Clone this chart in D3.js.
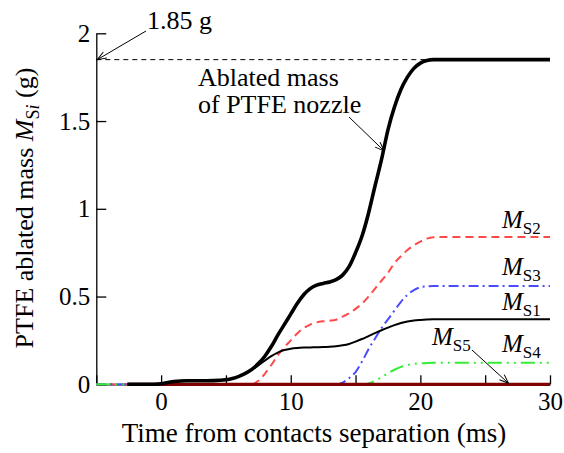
<!DOCTYPE html>
<html>
<head>
<meta charset="utf-8">
<script src="https://cdn.jsdelivr.net/npm/d3@7"></script>
<style>
  body { margin: 0; background: #fff; }
  text { font-family: "Liberation Serif", "Times New Roman", serif; fill: #000; }
</style>
</head>
<body>
<svg id="chart" width="564" height="453"></svg>
<script>
// Time grid (ms) shared by every series
const timeMs = [-5, -2.6, -1, 0, 0.5, 1, 2, 3, 4, 5, 5.5, 6, 6.5, 7, 7.5, 8, 8.5, 9, 9.5, 10,
  10.5, 11, 11.5, 12, 12.5, 13, 13.5, 14, 14.5, 15, 15.5, 16, 16.5, 17, 17.5, 18, 18.5, 19, 19.5, 20,
  20.5, 21, 22, 25, 30];

// Total ablated mass of the PTFE nozzle (g)
const massTotal = [null, 0, 0, 0.003, 0.01, 0.016, 0.02, 0.02, 0.021, 0.026, 0.033, 0.045, 0.062, 0.085, 0.118, 0.16, 0.215, 0.28, 0.34, 0.40,
  0.46, 0.51, 0.545, 0.565, 0.575, 0.583, 0.596, 0.622, 0.67, 0.75, 0.845, 0.975, 1.13, 1.28, 1.45, 1.58, 1.68, 1.75, 1.8, 1.83,
  1.845, 1.85, 1.85, 1.85, 1.85];

// Ablated mass per nozzle section (g)
const massS1 = [null, 0, 0, 0.003, 0.01, 0.016, 0.02, 0.02, 0.021, 0.026, 0.033, 0.045, 0.062, 0.082, 0.108, 0.135, 0.16, 0.18, 0.195, 0.203,
  0.207, 0.209, 0.21, 0.211, 0.212, 0.214, 0.217, 0.222, 0.23, 0.243, 0.258, 0.275, 0.292, 0.308, 0.323, 0.337, 0.349, 0.358, 0.364, 0.367,
  0.369, 0.37, 0.37, 0.37, 0.37];
const massS2 = [0, 0, 0, 0, 0, 0, 0, 0, 0, 0, 0, 0, 0, 0, 0.02, 0.06, 0.11, 0.165, 0.21, 0.25,
  0.29, 0.32, 0.34, 0.353, 0.359, 0.362, 0.368, 0.385, 0.405, 0.43, 0.46, 0.5, 0.545, 0.59, 0.635, 0.69, 0.73, 0.765, 0.792, 0.813,
  0.83, 0.838, 0.84, 0.84, 0.84];
const massS3 = [0, 0, 0, 0, 0, 0, 0, 0, 0, 0, 0, 0, 0, 0, 0, 0, 0, 0, 0, 0,
  0, 0, 0, 0, 0, 0, 0, 0.01, 0.035, 0.07, 0.13, 0.2, 0.26, 0.32, 0.37, 0.42, 0.47, 0.51, 0.537, 0.553,
  0.558, 0.56, 0.56, 0.56, 0.56];
const massS4 = [0, 0, 0, 0, 0, 0, 0, 0, 0, 0, 0, 0, 0, 0, 0, 0, 0, 0, 0, 0,
  0, 0, 0, 0, 0, 0, 0, 0, 0, 0, 0, 0.005, 0.02, 0.04, 0.063, 0.083, 0.099, 0.11, 0.116, 0.12,
  0.122, 0.123, 0.123, 0.123, 0.123];
const massS5 = [null, 0, 0, 0, 0, 0, 0, 0, 0, 0, 0, 0, 0, 0, 0, 0, 0, 0, 0, 0,
  0, 0, 0, 0, 0, 0, 0, 0, 0, 0, 0, 0, 0, 0, 0, 0, 0, 0, 0, 0,
  0, 0, 0, 0, 0];

// Axis ticks
const xTickValues = [-5, 0, 5, 10, 15, 20, 25, 30];
const xTickLabels = ["", "0", "", "10", "", "20", "", "30"];
const yTickValues = [0, 0.5, 1, 1.5, 2];
const yTickLabels = ["0", "0.5", "1", "1.5", "2"];

// Annotated values
const finalMass = 1.85;
const finalMassLabel = "1.85 g";
const nozzleArrowTarget = [17.2, 1.33];
const s5ArrowTarget = [26.8, 0];

const serif = '"Liberation Serif", "Times New Roman", serif';
const svg = d3.select("#chart");
const x = d3.scaleLinear().domain([-5, 30]).range([96.3, 550]);
const y = d3.scaleLinear().domain([0, 2]).range([384.3, 33.3]);

// Arrowhead (open V)
svg.append("defs").append("marker")
  .attr("id", "arrow").attr("viewBox", "-10 -5 12 10")
  .attr("refX", 0).attr("refY", 0)
  .attr("markerWidth", 12).attr("markerHeight", 10)
  .attr("markerUnits", "userSpaceOnUse")
  .attr("orient", "auto")
  .append("path").attr("d", "M-9,-3.5 L0,0 L-9,3.5")
  .attr("fill", "none").attr("stroke", "#000").attr("stroke-width", 1);

// Axes
const xAxis = d3.axisBottom(x).tickValues(xTickValues)
  .tickFormat((d, i) => xTickLabels[i]).tickSizeInner(-9).tickSizeOuter(0).tickPadding(8);
const yAxis = d3.axisLeft(y).tickValues(yTickValues)
  .tickFormat((d, i) => yTickLabels[i]).tickSizeInner(-10).tickSizeOuter(0).tickPadding(6);

const gx = svg.append("g").attr("transform", `translate(0,${y(0)})`).call(xAxis);
const gy = svg.append("g").attr("transform", `translate(${x(-5)},0)`).call(yAxis);
[gx, gy].forEach(g => {
  g.attr("font-family", serif);
  g.selectAll("path.domain").attr("stroke", "#000").attr("stroke-width", 1.3);
  g.selectAll(".tick line").attr("stroke", "#000").attr("stroke-width", 1.3);
  g.selectAll(".tick text").attr("font-size", 25).attr("fill", "#000").style("font-family", serif);
});

// Dashed line for the final ablated mass
svg.append("line")
  .attr("x1", x(-5)).attr("x2", x(30))
  .attr("y1", y(finalMass)).attr("y2", y(finalMass))
  .attr("stroke", "#000").attr("stroke-width", 1).attr("stroke-dasharray", "5,4");

// Curves
const line = d3.line()
  .defined(d => d[1] !== null)
  .x(d => x(d[0])).y(d => y(d[1]))
  .curve(d3.curveMonotoneX);

const series = [
  { values: massS2, color: "#ff4a4a", width: 2, dash: "8,5" },
  { values: massS3, color: "#4a4aff", width: 2, dash: "10,4,2,4" },
  { values: massS4, color: "#33ee33", width: 2, dash: "14,5,2,5,2,5" },
  { values: massS1, color: "#000", width: 2, dash: null },
  { values: massS5, color: "#800000", width: 3.2, dash: null },
  { values: massTotal, color: "#000", width: 3.6, dash: null }
];
series.forEach(s => {
  svg.append("path")
    .datum(timeMs.map((t, i) => [t, s.values[i]]))
    .attr("d", line)
    .attr("fill", "none")
    .attr("stroke", s.color)
    .attr("stroke-width", s.width)
    .attr("stroke-dasharray", s.dash)
    .attr("stroke-linejoin", "round");
});

// Annotation: final mass
svg.append("text").attr("x", 147).attr("y", 29).attr("font-size", 26).text(finalMassLabel);
svg.append("line")
  .attr("x1", 146).attr("y1", 31).attr("x2", x(-5) + 1).attr("y2", y(finalMass))
  .attr("stroke", "#000").attr("stroke-width", 1).attr("marker-end", "url(#arrow)");

// Annotation: total ablated mass (two lines)
svg.append("text").attr("x", 198).attr("y", 86).attr("font-size", 26).text("Ablated mass");
svg.append("text").attr("x", 198).attr("y", 113).attr("font-size", 26).text("of PTFE nozzle");
svg.append("line")
  .attr("x1", 349).attr("y1", 117)
  .attr("x2", x(nozzleArrowTarget[0])).attr("y2", y(nozzleArrowTarget[1]))
  .attr("stroke", "#000").attr("stroke-width", 1).attr("marker-end", "url(#arrow)");

// Series labels
function seriesLabel(px, py, sub) {
  const t = svg.append("text").attr("x", px).attr("y", py).attr("font-size", 25);
  t.append("tspan").attr("font-style", "italic").text("M");
  t.append("tspan").attr("font-size", 17).attr("dy", 6).text(sub);
}
seriesLabel(502, 228, "S2");
seriesLabel(502, 275, "S3");
seriesLabel(502, 310, "S1");
seriesLabel(502, 352, "S4");
seriesLabel(432, 345, "S5");
svg.append("line")
  .attr("x1", 472).attr("y1", 350)
  .attr("x2", x(s5ArrowTarget[0])).attr("y2", y(s5ArrowTarget[1]) - 1)
  .attr("stroke", "#000").attr("stroke-width", 1).attr("marker-end", "url(#arrow)");

// Axis titles
svg.append("text")
  .attr("x", 314).attr("y", 442).attr("text-anchor", "middle").attr("font-size", 27)
  .text("Time from contacts separation (ms)");

const yt = svg.append("text")
  .attr("transform", "translate(33,208) rotate(-90)")
  .attr("text-anchor", "middle").attr("font-size", 26);
yt.append("tspan").text("PTFE ablated mass ");
yt.append("tspan").attr("font-style", "italic").text("M");
yt.append("tspan").attr("font-size", 18).attr("dy", 6).text("S");
yt.append("tspan").attr("font-size", 18).attr("font-style", "italic").text("i");
yt.append("tspan").attr("dy", -6).text(" (g)");
</script>
</body>
</html>
